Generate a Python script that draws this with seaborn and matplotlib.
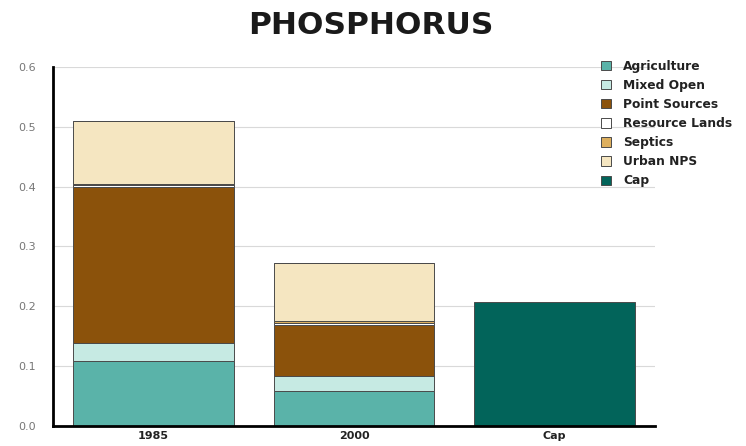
import pandas as pd
import seaborn as sns
import matplotlib
matplotlib.use("Agg")
import matplotlib.pyplot as plt
import numpy as np

periods = ["1985", "2000", "Cap"]
agriculture = [0.109, 0.059, 0.0]
mixed_open = [0.029, 0.025, 0.0]
point_sources = [0.262, 0.085, 0.0]
resource_lands = [0.003, 0.003, 0.0]
septics = [0.002, 0.004, 0.0]
urban_nps = [0.105, 0.097, 0.0]
cap = [0.0, 0.0, 0.207]

series = {
    "Agriculture": agriculture,
    "Mixed Open": mixed_open,
    "Point Sources": point_sources,
    "Resource Lands": resource_lands,
    "Septics": septics,
    "Urban NPS": urban_nps,
    "Cap": cap,
}
colors = {
    "Agriculture": "#5AB3A9",
    "Mixed Open": "#C6EAE3",
    "Point Sources": "#8B520B",
    "Resource Lands": "#FFFFFF",
    "Septics": "#DDAF5E",
    "Urban NPS": "#F5E6C1",
    "Cap": "#02645A",
}

df = pd.DataFrame(series)
df["Period"] = periods

sns.set_style("white")
fig = plt.figure(figsize=(7.46, 4.46), dpi=100)
ax = fig.add_axes([0.071, 0.045, 0.807, 0.805])

bottom = np.zeros(len(periods))
for name, vals in series.items():
    sns.barplot(data=df, x="Period", y=name, bottom=bottom, color=colors[name],
                width=0.8, edgecolor="#4a4a4a", linewidth=0.7, saturation=1,
                label=name, ax=ax)
    bottom = bottom + np.array(vals)

handles, labels = ax.get_legend_handles_labels()
if ax.get_legend() is not None:
    ax.get_legend().remove()

ax.set_xlim(-0.5, 2.5)
ax.set_ylim(0, 0.6)
ax.set_yticks(np.arange(0, 0.61, 0.1))
ax.set_yticklabels([f"{v:.1f}" for v in np.arange(0, 0.61, 0.1)])
ax.yaxis.grid(True, color="#d9d9d9", linewidth=0.8)
ax.set_axisbelow(True)
ax.set_xlabel("")
ax.set_ylabel("")
for s in ["top", "right"]:
    ax.spines[s].set_visible(False)
ax.spines["left"].set_color("black")
ax.spines["left"].set_linewidth(2)
ax.spines["bottom"].set_color("black")
ax.spines["bottom"].set_linewidth(2)
ax.tick_params(axis="y", colors="#777777", labelsize=8, length=0, pad=12)
ax.tick_params(axis="x", colors="#222222", labelsize=8, length=0, pad=4)
for t in ax.get_xticklabels():
    t.set_fontweight("bold")

fig.suptitle("PHOSPHORUS", x=0.497, y=0.975, fontsize=22.5, fontweight="bold", color="#1a1a1a")

leg = fig.legend(handles, labels, loc="upper left", bbox_to_anchor=(0.806, 0.866),
                 frameon=False, fontsize=8.8, handlelength=0.8, handleheight=0.8,
                 handletextpad=1.0, labelspacing=0.5, borderaxespad=0, borderpad=0)
for t in leg.get_texts():
    t.set_fontweight("bold")
    t.set_color("#222222")

fig.savefig("out.png", dpi=100)
